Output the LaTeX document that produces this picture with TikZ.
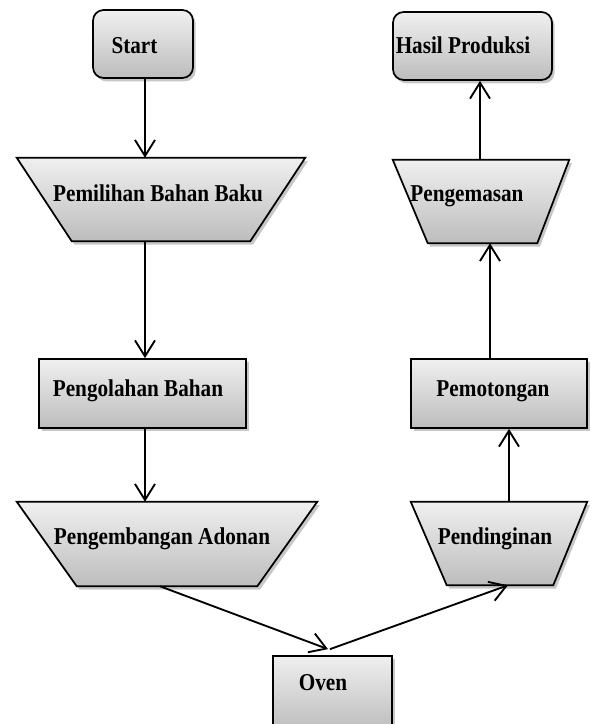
\documentclass[tikz,border=0pt]{standalone}
\usepackage{fontspec}
\setmainfont{Liberation Serif}
\usetikzlibrary{arrows.meta,calc,shadows}
\newcommand\pxu{0.75pt}
\newcommand\tallt[1]{\scalebox{1}[1.14]{#1}}
\begin{document}
\begin{tikzpicture}[x=0.75pt,y=-0.75pt,
  frame/.style={draw=none,fill=none,inner sep=0pt,rectangle},
  shapelook/.style={draw=black,line width=1.3pt,top color=black!6,bottom color=black!26,
    drop shadow={shadow xshift=2pt,shadow yshift=-2.5pt,fill=black,opacity=0.22}},
  boxlook/.style={shapelook,rectangle,inner sep=0pt},
  roundlook/.style={boxlook,rounded corners=8pt},
  lbl/.style={font=\bfseries\fontsize{15.9}{18}\selectfont,anchor=base,inner sep=0pt},
  arr/.style={line width=1.4pt,-{Straight Barb[length=12pt,width=15pt,line width=1.4pt]}}
]
\useasboundingbox (0,0) rectangle (594,724);

% shapes
\node[roundlook,minimum width=100*\pxu,minimum height=68*\pxu] (start) at (143,44) {};
\node[roundlook,minimum width=159*\pxu,minimum height=68*\pxu] (hasil) at (472.5,46) {};
\node[frame,minimum width=288*\pxu,minimum height=83*\pxu] (pem) at (161,199.5) {};
\node[boxlook,minimum width=207*\pxu,minimum height=69*\pxu] (olah) at (142.5,393.5) {};
\node[frame,minimum width=300*\pxu,minimum height=84*\pxu] (kemb) at (167,544) {};
\node[boxlook,minimum width=119*\pxu,minimum height=74*\pxu] (oven) at (332.5,693) {};
\node[frame,minimum width=176*\pxu,minimum height=83*\pxu] (dingin) at (499,543.5) {};
\node[boxlook,minimum width=176*\pxu,minimum height=69*\pxu] (potong) at (499,393.5) {};
\node[frame,minimum width=176*\pxu,minimum height=83*\pxu] (kemas) at (481,201.5) {};

% trapezoids
\path[shapelook] (pem.north west) -- (pem.north east) -- ($(pem.south east)+(-55,0)$) -- ($(pem.south west)+(55,0)$) -- cycle;
\path[shapelook] (kemb.north west) -- (kemb.north east) -- ($(kemb.south east)+(-60,0)$) -- ($(kemb.south west)+(60,0)$) -- cycle;
\path[shapelook] (dingin.north west) -- (dingin.north east) -- ($(dingin.south east)+(-34,0)$) -- ($(dingin.south west)+(36,0)$) -- cycle;
\path[shapelook] (kemas.north west) -- (kemas.north east) -- ($(kemas.south east)+(-32,0)$) -- ($(kemas.south west)+(35,0)$) -- cycle;

% labels
\node[lbl] (tstart) at (134.5,53.5) {\tallt{Start}};
\node[lbl] (themas) at (463,53.5) {\tallt{Hasil Produksi}};
\node[lbl] (tpem) at (158,201.5) {\tallt{Pemilihan Bahan Baku}};
\node[lbl] (tolah) at (138,396.5) {\tallt{Pengolahan Bahan}};
\node[lbl] (tkemb) at (162,544.5) {\tallt{Pengembangan Adonan}};
\node[lbl] (toven) at (323,690.5) {\tallt{Oven}};
\node[lbl] (tdingin) at (495,544.5) {\tallt{Pendinginan}};
\node[lbl] (tpotong) at (493,396.5) {\tallt{Pemotongan}};
\node[lbl] (tkemas) at (467,201.5) {\tallt{Pengemasan}};

% connectors
\draw[arr] ($(start.south)+(2,0)$) -- ($(pem.north)+(-16,0)$);
\draw[arr] ($(pem.south)+(-16,0)$) -- ($(olah.north)+(2.5,0)$);
\draw[arr] ($(olah.south)+(2.5,0)$) -- ($(kemb.north)+(-22,0)$);
\draw[arr] ($(kemb.south)+(-7,0)$) -- ($(oven.north)+(-4.5,-6)$);
\draw[arr] ($(oven.north)+(-2.5,-6)$) -- ($(dingin.south)+(9,0)$);
\draw[arr] ($(dingin.north)+(10,0)$) -- ($(potong.south)+(10,0)$);
\draw[arr] ($(potong.north)+(-9,0)$) -- ($(kemas.south)+(9,0)$);
\draw[arr] ($(kemas.north)+(-1,0)$) -- ($(hasil.south)+(7.5,0)$);
\end{tikzpicture}
\end{document}
